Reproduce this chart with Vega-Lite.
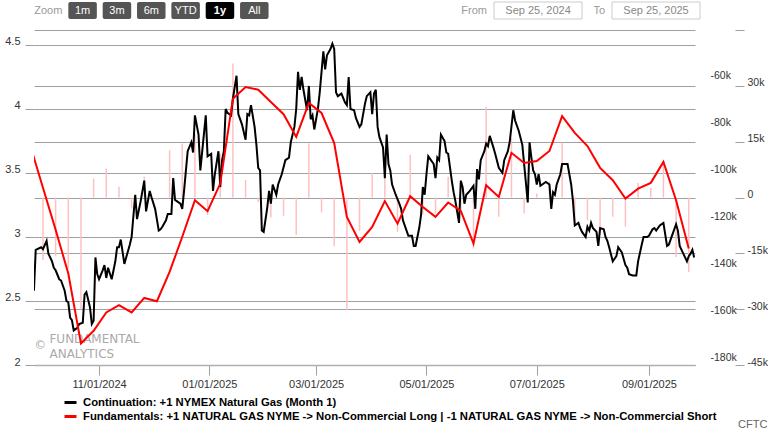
{
  "$schema": "https://vega.github.io/schema/vega-lite/v6.json",
  "background": "white",
  "padding": {"left": 0, "top": 1, "right": 0, "bottom": 0},
  "spacing": 9,
  "config": {"font": "Liberation Sans", "view": {"stroke": null}},
  "datasets": {
    "buttons": [{"label": "1m"}, {"label": "3m"}, {"label": "6m"}, {"label": "YTD"}, {"label": "1y"}, {"label": "All"}],
    "ranges": [{"label": "From", "value": "Sep 25, 2024"}, {"label": "To", "value": "Sep 25, 2025"}],
    "price": [
      {"date":"2024-09-26","price":2.58},{"date":"2024-09-27","price":2.90},{"date":"2024-09-30","price":2.92},{"date":"2024-10-01","price":2.905},{"date":"2024-10-03","price":2.97},{"date":"2024-10-04","price":2.87},{"date":"2024-10-06","price":2.81},{"date":"2024-10-07","price":2.76},{"date":"2024-10-08","price":2.74},{"date":"2024-10-10","price":2.67},{"date":"2024-10-11","price":2.66},{"date":"2024-10-13","price":2.58},{"date":"2024-10-14","price":2.50},{"date":"2024-10-15","price":2.49},{"date":"2024-10-16","price":2.37},{"date":"2024-10-17","price":2.35},{"date":"2024-10-18","price":2.27},{"date":"2024-10-20","price":2.29},{"date":"2024-10-21","price":2.32},{"date":"2024-10-23","price":2.33},{"date":"2024-10-24","price":2.55},{"date":"2024-10-25","price":2.57},{"date":"2024-10-27","price":2.45},{"date":"2024-10-28","price":2.32},{"date":"2024-10-29","price":2.345},{"date":"2024-10-30","price":2.84},{"date":"2024-10-31","price":2.71},
      {"date":"2024-11-01","price":2.67},{"date":"2024-11-03","price":2.74},{"date":"2024-11-04","price":2.78},{"date":"2024-11-05","price":2.68},{"date":"2024-11-06","price":2.76},{"date":"2024-11-08","price":2.67},{"date":"2024-11-10","price":2.81},{"date":"2024-11-11","price":2.92},{"date":"2024-11-12","price":2.92},{"date":"2024-11-13","price":2.98},{"date":"2024-11-15","price":2.79},{"date":"2024-11-16","price":2.84},{"date":"2024-11-18","price":2.94},{"date":"2024-11-19","price":3.00},{"date":"2024-11-21","price":3.33},{"date":"2024-11-22","price":3.14},{"date":"2024-11-24","price":3.28},{"date":"2024-11-26","price":3.44},{"date":"2024-11-27","price":3.20},{"date":"2024-11-29","price":3.36},{"date":"2024-11-30","price":3.31},
      {"date":"2024-12-02","price":3.22},{"date":"2024-12-04","price":3.05},{"date":"2024-12-05","price":3.06},{"date":"2024-12-06","price":3.08},{"date":"2024-12-08","price":3.13},{"date":"2024-12-09","price":3.18},{"date":"2024-12-11","price":3.18},{"date":"2024-12-12","price":3.46},{"date":"2024-12-13","price":3.29},{"date":"2024-12-16","price":3.26},{"date":"2024-12-17","price":3.22},{"date":"2024-12-18","price":3.36},{"date":"2024-12-20","price":3.67},{"date":"2024-12-22","price":3.74},{"date":"2024-12-23","price":3.66},{"date":"2024-12-24","price":3.95},{"date":"2024-12-26","price":3.80},{"date":"2024-12-27","price":3.52},{"date":"2024-12-30","price":3.95},{"date":"2024-12-31","price":3.63},
      {"date":"2025-01-02","price":3.65},{"date":"2025-01-03","price":3.36},{"date":"2025-01-04","price":3.49},{"date":"2025-01-06","price":3.67},{"date":"2025-01-07","price":3.39},{"date":"2025-01-08","price":3.60},{"date":"2025-01-09","price":3.67},{"date":"2025-01-10","price":4.00},{"date":"2025-01-11","price":3.97},{"date":"2025-01-13","price":3.95},{"date":"2025-01-14","price":4.08},{"date":"2025-01-16","price":4.26},{"date":"2025-01-17","price":3.96},{"date":"2025-01-19","price":3.88},{"date":"2025-01-21","price":3.76},{"date":"2025-01-22","price":3.96},{"date":"2025-01-23","price":3.95},{"date":"2025-01-24","price":4.03},{"date":"2025-01-26","price":3.86},{"date":"2025-01-27","price":3.72},{"date":"2025-01-28","price":3.54},{"date":"2025-01-29","price":3.52},{"date":"2025-01-30","price":3.05},{"date":"2025-01-31","price":3.04},
      {"date":"2025-02-02","price":3.23},{"date":"2025-02-03","price":3.36},{"date":"2025-02-04","price":3.26},{"date":"2025-02-05","price":3.41},{"date":"2025-02-07","price":3.33},{"date":"2025-02-08","price":3.41},{"date":"2025-02-10","price":3.49},{"date":"2025-02-12","price":3.60},{"date":"2025-02-14","price":3.62},{"date":"2025-02-15","price":3.74},{"date":"2025-02-17","price":3.86},{"date":"2025-02-18","price":4.00},{"date":"2025-02-19","price":4.29},{"date":"2025-02-20","price":4.15},{"date":"2025-02-21","price":4.25},{"date":"2025-02-22","price":4.15},{"date":"2025-02-24","price":3.99},{"date":"2025-02-25","price":4.18},{"date":"2025-02-26","price":3.92},{"date":"2025-02-27","price":3.95},{"date":"2025-02-28","price":3.84},
      {"date":"2025-03-02","price":4.00},{"date":"2025-03-03","price":4.13},{"date":"2025-03-05","price":4.45},{"date":"2025-03-06","price":4.31},{"date":"2025-03-07","price":4.42},{"date":"2025-03-09","price":4.47},{"date":"2025-03-10","price":4.51},{"date":"2025-03-11","price":4.47},{"date":"2025-03-12","price":4.13},{"date":"2025-03-13","price":4.10},{"date":"2025-03-15","price":4.12},{"date":"2025-03-17","price":4.05},{"date":"2025-03-18","price":4.03},{"date":"2025-03-19","price":4.25},{"date":"2025-03-20","price":4.00},{"date":"2025-03-22","price":3.99},{"date":"2025-03-23","price":3.93},{"date":"2025-03-25","price":3.86},{"date":"2025-03-26","price":3.88},{"date":"2025-03-28","price":4.04},{"date":"2025-03-29","price":4.10},{"date":"2025-03-31","price":4.13},
      {"date":"2025-04-01","price":3.96},{"date":"2025-04-02","price":4.12},{"date":"2025-04-03","price":4.15},{"date":"2025-04-04","price":3.86},{"date":"2025-04-05","price":3.78},{"date":"2025-04-07","price":3.70},{"date":"2025-04-08","price":3.46},{"date":"2025-04-09","price":3.80},{"date":"2025-04-10","price":3.57},{"date":"2025-04-11","price":3.52},{"date":"2025-04-12","price":3.41},{"date":"2025-04-14","price":3.33},{"date":"2025-04-16","price":3.26},{"date":"2025-04-17","price":3.22},{"date":"2025-04-18","price":3.13},{"date":"2025-04-20","price":3.05},{"date":"2025-04-21","price":3.01},{"date":"2025-04-23","price":3.01},{"date":"2025-04-24","price":2.93},{"date":"2025-04-25","price":2.93},{"date":"2025-04-26","price":3.00},{"date":"2025-04-27","price":3.07},{"date":"2025-04-28","price":3.17},{"date":"2025-04-29","price":3.39},{"date":"2025-04-30","price":3.33},
      {"date":"2025-05-01","price":3.49},{"date":"2025-05-02","price":3.63},{"date":"2025-05-03","price":3.61},{"date":"2025-05-05","price":3.57},{"date":"2025-05-06","price":3.46},{"date":"2025-05-07","price":3.62},{"date":"2025-05-08","price":3.60},{"date":"2025-05-09","price":3.80},{"date":"2025-05-11","price":3.75},{"date":"2025-05-12","price":3.66},{"date":"2025-05-13","price":3.65},{"date":"2025-05-15","price":3.44},{"date":"2025-05-16","price":3.35},{"date":"2025-05-17","price":3.28},{"date":"2025-05-19","price":3.11},{"date":"2025-05-20","price":3.44},{"date":"2025-05-21","price":3.39},{"date":"2025-05-22","price":3.26},{"date":"2025-05-23","price":3.33},{"date":"2025-05-25","price":3.36},{"date":"2025-05-27","price":3.40},{"date":"2025-05-28","price":3.22},{"date":"2025-05-29","price":3.53},{"date":"2025-05-30","price":3.45},{"date":"2025-05-31","price":3.60},
      {"date":"2025-06-02","price":3.67},{"date":"2025-06-03","price":3.73},{"date":"2025-06-04","price":3.71},{"date":"2025-06-05","price":3.79},{"date":"2025-06-07","price":3.70},{"date":"2025-06-08","price":3.65},{"date":"2025-06-10","price":3.54},{"date":"2025-06-12","price":3.50},{"date":"2025-06-13","price":3.60},{"date":"2025-06-15","price":3.67},{"date":"2025-06-16","price":3.74},{"date":"2025-06-18","price":3.99},{"date":"2025-06-19","price":3.91},{"date":"2025-06-21","price":3.83},{"date":"2025-06-23","price":3.72},{"date":"2025-06-26","price":3.27},{"date":"2025-06-27","price":3.74},{"date":"2025-06-28","price":3.62},{"date":"2025-06-29","price":3.52},{"date":"2025-06-30","price":3.49},
      {"date":"2025-07-01","price":3.41},{"date":"2025-07-02","price":3.49},{"date":"2025-07-03","price":3.40},{"date":"2025-07-04","price":3.41},{"date":"2025-07-06","price":3.43},{"date":"2025-07-08","price":3.41},{"date":"2025-07-09","price":3.22},{"date":"2025-07-10","price":3.35},{"date":"2025-07-11","price":3.33},{"date":"2025-07-12","price":3.41},{"date":"2025-07-14","price":3.49},{"date":"2025-07-15","price":3.57},{"date":"2025-07-17","price":3.57},{"date":"2025-07-18","price":3.57},{"date":"2025-07-20","price":3.41},{"date":"2025-07-21","price":3.28},{"date":"2025-07-22","price":3.09},{"date":"2025-07-24","price":3.11},{"date":"2025-07-25","price":3.07},{"date":"2025-07-26","price":3.04},{"date":"2025-07-28","price":3.00},{"date":"2025-07-29","price":3.08},{"date":"2025-07-30","price":3.05},{"date":"2025-07-31","price":3.11},
      {"date":"2025-08-01","price":3.07},{"date":"2025-08-03","price":3.04},{"date":"2025-08-04","price":2.93},{"date":"2025-08-05","price":3.07},{"date":"2025-08-07","price":3.06},{"date":"2025-08-08","price":3.00},{"date":"2025-08-09","price":2.97},{"date":"2025-08-10","price":2.92},{"date":"2025-08-12","price":2.81},{"date":"2025-08-13","price":2.83},{"date":"2025-08-14","price":2.85},{"date":"2025-08-15","price":2.92},{"date":"2025-08-16","price":2.90},{"date":"2025-08-17","price":2.88},{"date":"2025-08-19","price":2.78},{"date":"2025-08-20","price":2.76},{"date":"2025-08-21","price":2.71},{"date":"2025-08-23","price":2.70},{"date":"2025-08-25","price":2.70},{"date":"2025-08-26","price":2.81},{"date":"2025-08-28","price":2.94},{"date":"2025-08-29","price":3.00},{"date":"2025-08-31","price":3.00},
      {"date":"2025-09-01","price":3.01},{"date":"2025-09-03","price":3.06},{"date":"2025-09-04","price":3.07},{"date":"2025-09-05","price":3.05},{"date":"2025-09-07","price":3.09},{"date":"2025-09-09","price":3.11},{"date":"2025-09-10","price":3.02},{"date":"2025-09-11","price":2.93},{"date":"2025-09-12","price":2.94},{"date":"2025-09-14","price":3.02},{"date":"2025-09-16","price":3.10},{"date":"2025-09-17","price":3.05},{"date":"2025-09-18","price":2.93},{"date":"2025-09-20","price":2.87},{"date":"2025-09-22","price":2.81},{"date":"2025-09-23","price":2.85},{"date":"2025-09-24","price":2.87},{"date":"2025-09-25","price":2.90},{"date":"2025-09-26","price":2.84}
    ],
    "cot": [
      {"date":"2024-09-24","net":-88400},
      {"date":"2024-10-01","net":-106400,"chg":-16800},{"date":"2024-10-08","net":-124300,"chg":-15800},{"date":"2024-10-15","net":-143000,"chg":-19000},{"date":"2024-10-22","net":-172800,"chg":-30000},{"date":"2024-10-29","net":-167400,"chg":5100},
      {"date":"2024-11-05","net":-159600,"chg":7800},{"date":"2024-11-12","net":-156500,"chg":2900},{"date":"2024-11-19","net":-159600,"chg":-3000},{"date":"2024-11-26","net":-153400,"chg":5600},
      {"date":"2024-12-03","net":-154800,"chg":-700},{"date":"2024-12-10","net":-142300,"chg":12700},{"date":"2024-12-17","net":-127300,"chg":14500},{"date":"2024-12-24","net":-111700,"chg":17000},{"date":"2024-12-31","net":-116400,"chg":-4700},
      {"date":"2025-01-07","net":-104600,"chg":11800},{"date":"2025-01-14","net":-68400,"chg":36000},{"date":"2025-01-21","net":-63400,"chg":4700},{"date":"2025-01-28","net":-64600,"chg":-1200},
      {"date":"2025-02-04","net":-69800,"chg":-5400},{"date":"2025-02-11","net":-75000,"chg":-4900},{"date":"2025-02-18","net":-84700,"chg":-10100},{"date":"2025-02-25","net":-70200,"chg":14500},
      {"date":"2025-03-04","net":-74500,"chg":-4000},{"date":"2025-03-11","net":-87300,"chg":-13100},{"date":"2025-03-18","net":-118800,"chg":-30300},{"date":"2025-03-25","net":-129500,"chg":-9000},
      {"date":"2025-04-01","net":-123100,"chg":6500},{"date":"2025-04-08","net":-112100,"chg":11000},{"date":"2025-04-15","net":-121700,"chg":-9200},{"date":"2025-04-22","net":-110000,"chg":11400},{"date":"2025-04-29","net":-114600,"chg":-4600},
      {"date":"2025-05-06","net":-118800,"chg":-4300},{"date":"2025-05-13","net":-112700,"chg":5600},{"date":"2025-05-20","net":-116300,"chg":-3600},{"date":"2025-05-27","net":-130200,"chg":-13700},
      {"date":"2025-06-03","net":-105300,"chg":24400},{"date":"2025-06-10","net":-110300,"chg":-5200},{"date":"2025-06-17","net":-91500,"chg":16000},{"date":"2025-06-24","net":-95800,"chg":-4300},
      {"date":"2025-07-01","net":-95000,"chg":1100},{"date":"2025-07-08","net":-90700,"chg":4300},{"date":"2025-07-15","net":-75800,"chg":14800},{"date":"2025-07-22","net":-83000,"chg":-7500},{"date":"2025-07-29","net":-88600,"chg":-6100},
      {"date":"2025-08-05","net":-97900,"chg":-10100},{"date":"2025-08-12","net":-103200,"chg":-5200},{"date":"2025-08-19","net":-111000,"chg":-7800},{"date":"2025-08-26","net":-106800,"chg":3900},
      {"date":"2025-09-02","net":-104300,"chg":2600},{"date":"2025-09-09","net":-95400,"chg":9600},{"date":"2025-09-16","net":-111700,"chg":-16000},{"date":"2025-09-23","net":-132300,"chg":-20000}
    ]
  },
  "vconcat": [
    {
      "width": 681,
      "height": 17,
      "layer": [
        {
          "layer": [
            {
              "data": {"name": "buttons"},
              "mark": {"type": "rect", "cornerRadius": 2},
              "encoding": {
                "x": {"field": "label", "type": "nominal", "sort": null, "axis": null,
                      "scale": {"domain": ["Zoom", "1m", "3m", "6m", "YTD", "1y", "All", " ", "  ", "   ", "    ", "     ", "      ", "       ", "        ", "         ", "          ", "           ", "            ", "             "], "paddingInner": 0.17, "paddingOuter": 0, "align": 0}},
                "color": {"condition": {"test": "datum.label === '1y'", "value": "#000000"}, "value": "#555555"}
              }
            },
            {
              "data": {"name": "buttons"},
              "transform": [{"filter": "datum.label !== '1y'"}],
              "mark": {"type": "text", "color": "#ffffff", "fontSize": 11},
              "encoding": {"x": {"field": "label", "type": "nominal"}, "text": {"field": "label"}}
            },
            {
              "data": {"name": "buttons"},
              "transform": [{"filter": "datum.label === '1y'"}],
              "mark": {"type": "text", "color": "#ffffff", "fontSize": 11, "fontWeight": "bold"},
              "encoding": {"x": {"field": "label", "type": "nominal"}, "text": {"field": "label"}}
            },
            {
              "data": {"values": [{}]},
              "mark": {"type": "text", "color": "#999999", "fontSize": 11},
              "encoding": {"x": {"datum": "Zoom", "type": "nominal"}, "text": {"value": "Zoom"}}
            }
          ]
        },
        {
          "layer": [
            {
              "data": {"name": "ranges"},
              "mark": {"type": "rect", "width": 88, "fill": "#ffffff", "stroke": "#cccccc", "strokeWidth": 1},
              "encoding": {
                "x": {"field": "label", "type": "nominal", "sort": null, "axis": null,
                      "scale": {"domain": [" ", "  ", "   ", "From", "To"], "paddingInner": 0, "paddingOuter": 0.386, "align": 1}}
              }
            },
            {
              "data": {"name": "ranges"},
              "mark": {"type": "text", "color": "#888888", "fontSize": 11},
              "encoding": {"x": {"field": "label", "type": "nominal"}, "text": {"field": "value"}}
            },
            {
              "data": {"name": "ranges"},
              "mark": {"type": "text", "color": "#999999", "fontSize": 11, "align": "right", "dx": -51},
              "encoding": {"x": {"field": "label", "type": "nominal"}, "text": {"field": "label"}}
            }
          ]
        }
      ],
      "resolve": {"scale": {"x": "independent"}}
    },
    {
      "width": 661,
      "height": 335,
      "title": {"text": "CFTC", "orient": "bottom", "anchor": "end", "frame": "bounds", "fontSize": 11, "fontWeight": "normal", "color": "#666666", "font": "Liberation Sans", "offset": 30},
      "layer": [
        {
          "data": {"name": "cot"},
          "transform": [{"filter": "isValid(datum.chg)"}],
          "mark": {"type": "bar", "size": 1.5, "color": "#ffc0c0", "clip": true},
          "encoding": {
            "x": {
              "field": "date", "type": "temporal",
              "scale": {"type": "utc", "padding": 0, "domain": [{"year": 2024, "month": 9, "date": 26, "hours": 1, "utc": true}, {"year": 2025, "month": 9, "date": 26, "hours": 11, "utc": true}]},
              "axis": {
                "title": null, "grid": false,
                "labelExpr": "utcFormat(datum.value, '%m/%d/%Y')",
                "values": [
                  {"year": 2024, "month": 11, "date": 1, "utc": true},
                  {"year": 2025, "month": 1, "date": 1, "utc": true},
                  {"year": 2025, "month": 3, "date": 1, "utc": true},
                  {"year": 2025, "month": 5, "date": 1, "utc": true},
                  {"year": 2025, "month": 7, "date": 1, "utc": true},
                  {"year": 2025, "month": 9, "date": 1, "utc": true}
                ],
                "tickSize": 10, "tickColor": "#a0a0a0", "domainColor": "#b0b0b0", "domainWidth": 1.5,
                "labelFontSize": 11, "labelColor": "#333333", "labelPadding": 3
              }
            },
            "y": {
              "field": "chg", "type": "quantitative",
              "scale": {"domain": [-45000, 45000], "nice": false},
              "axis": {
                "orient": "right", "offset": 40, "title": null,
                "values": [-45000, -30000, -15000, 0, 15000, 30000, 45000],
                "labelExpr": "datum.value == 45000 ? '' : (datum.value == 0 ? '0' : (datum.value < 0 ? '-' : '') + format(abs(datum.value) / 1000, 'd') + 'k')",
                "grid": true, "gridColor": "#a0a0a0", "gridWidth": 1.2,
                "domain": false, "tickSize": 9, "tickColor": "#a0a0a0",
                "labelPadding": 3, "labelFontSize": 10.5, "labelColor": "#333333", "labelBaseline": "alphabetic"
              }
            }
          }
        },
        {
          "layer": [
            {
              "data": {"name": "price"},
              "mark": {"type": "line", "strokeWidth": 2, "clip": true},
              "encoding": {
                "x": {"field": "date", "type": "temporal"},
                "y": {
                  "field": "price", "type": "quantitative",
                  "scale": {"domain": [2, 4.617], "nice": false, "zero": false},
                  "axis": {
                    "orient": "left", "title": null, "values": [2, 2.5, 3, 3.5, 4, 4.5], "format": "~g",
                    "grid": true, "gridColor": "#a0a0a0", "gridWidth": 1.2,
                    "domain": false, "tickSize": 9, "tickColor": "#a0a0a0",
                    "labelPadding": 5, "labelFontSize": 11, "labelColor": "#333333", "labelBaseline": "alphabetic",
                    "minExtent": 34, "maxExtent": 34
                  }
                },
                "color": {
                  "datum": "Continuation: +1 NYMEX Natural Gas (Month 1)",
                  "scale": {
                    "domain": ["Continuation: +1 NYMEX Natural Gas (Month 1)", "Fundamentals: +1 NATURAL GAS NYME -> Non-Commercial Long | -1 NATURAL GAS NYME -> Non-Commercial Short"],
                    "range": ["#000000", "#ff0000"]
                  },
                  "legend": {
                    "orient": "none", "legendX": 29, "legendY": 393, "title": null, "padding": 0,
                    "direction": "vertical", "symbolType": "stroke", "symbolStrokeWidth": 3, "symbolSize": 144,
                    "labelFont": "Liberation Sans", "labelFontSize": 11.3, "labelFontWeight": "bold", "labelColor": "#000000",
                    "labelLimit": 900, "labelOffset": 5, "rowPadding": -4
                  }
                }
              }
            },
            {
              "data": {"values": [{}]},
              "mark": {"type": "text", "align": "left", "baseline": "middle", "fontSize": 12, "font": "DejaVu Sans", "color": "#aaaaaa"},
              "encoding": {
                "x": {"datum": {"year": 2024, "month": 9, "date": 26, "hours": 4, "utc": true}, "type": "temporal"},
                "y": {"datum": 2.16, "type": "quantitative"},
                "text": {"value": "©"}
              }
            },
            {
              "data": {"values": [{}]},
              "mark": {"type": "text", "align": "left", "baseline": "top", "fontSize": 12, "font": "DejaVu Sans", "color": "#aaaaaa"},
              "encoding": {
                "x": {"datum": {"year": 2024, "month": 10, "date": 4, "hours": 14, "utc": true}, "type": "temporal"},
                "y": {"datum": 2.245, "type": "quantitative"},
                "text": {"value": "FUNDAMENTAL"}
              }
            },
            {
              "data": {"values": [{}]},
              "mark": {"type": "text", "align": "left", "baseline": "top", "fontSize": 12, "font": "DejaVu Sans", "color": "#aaaaaa"},
              "encoding": {
                "x": {"datum": {"year": 2024, "month": 10, "date": 4, "hours": 14, "utc": true}, "type": "temporal"},
                "y": {"datum": 2.125, "type": "quantitative"},
                "text": {"value": "ANALYTICS"}
              }
            }
          ]
        },
        {
          "data": {"name": "cot"},
          "mark": {"type": "line", "strokeWidth": 2, "clip": true},
          "encoding": {
            "x": {"field": "date", "type": "temporal"},
            "y": {
              "field": "net", "type": "quantitative",
              "scale": {"domain": [-182000, -39100], "nice": false, "zero": false},
              "axis": {
                "orient": "right", "title": null,
                "values": [-60000, -80000, -100000, -120000, -140000, -160000, -180000],
                "labelExpr": "(datum.value < 0 ? '-' : '') + format(abs(datum.value) / 1000, 'd') + 'k'",
                "grid": false, "domain": false, "ticks": false,
                "labelPadding": 15, "labelFontSize": 10.5, "labelColor": "#333333", "labelBaseline": "alphabetic"
              }
            },
            "color": {"datum": "Fundamentals: +1 NATURAL GAS NYME -> Non-Commercial Long | -1 NATURAL GAS NYME -> Non-Commercial Short"}
          }
        }
      ],
      "resolve": {"scale": {"y": "independent"}}
    }
  ]
}
